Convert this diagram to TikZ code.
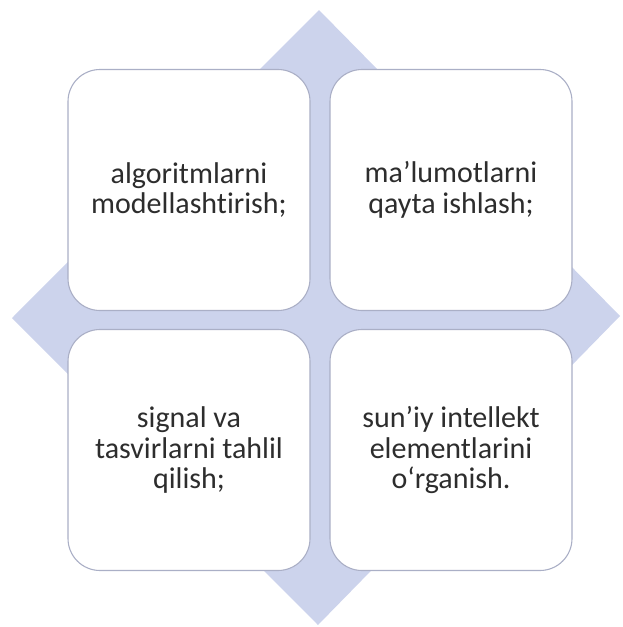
\documentclass[tikz,border=0pt]{standalone}
\usepackage{fontspec}
\setmainfont{Carlito}[Ligatures={NoCommon}]
\definecolor{diafill}{RGB}{204,211,236}
\definecolor{boxline}{RGB}{170,175,198}
\definecolor{txt}{RGB}{45,45,45}
\begin{document}
\begin{tikzpicture}[x=1pt,y=-1pt,
  cardbox/.style={draw=boxline,line width=1.1pt,fill=white,rounded corners=32pt,
    minimum width=242pt,minimum height=241pt,inner sep=0pt,
    align=center,text=txt,font=\fontsize{30}{30.5}\selectfont}]
\useasboundingbox (0,0) rectangle (622,627);
\fill[diafill] (319,10) -- (620,316) -- (318,625) -- (12,318) -- cycle;
\node[cardbox] (tl) at (189,190) {algoritmlarni\\modellashtirish;};
\node[cardbox] (tr) at (451,190) {ma’lumotlarni\\qayta ishlash;};
\node[cardbox] (bl) at (189,450) {signal va\\tasvirlarni tahlil\\qilish;};
\node[cardbox] (br) at (451,450) {sun’iy intellekt\\elementlarini\\o‘rganish.};
\end{tikzpicture}
\end{document}
